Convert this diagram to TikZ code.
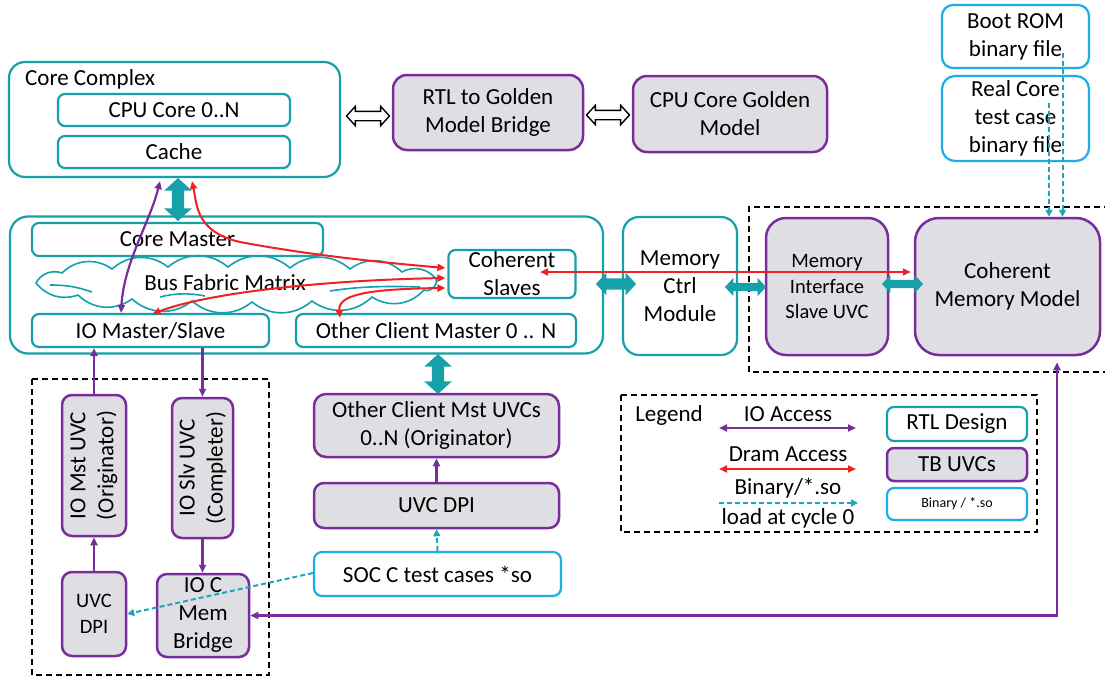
\documentclass[tikz,border=0pt]{standalone}
\usepackage{fontspec}
\setmainfont{Carlito}
\usetikzlibrary{arrows.meta,shapes.arrows,calc}
\definecolor{rtlteal}{RGB}{22,161,170}
\definecolor{binblue}{RGB}{30,174,230}
\definecolor{uvcpurple}{RGB}{120,45,155}
\definecolor{uvcgray}{RGB}{223,223,227}
\definecolor{dramred}{RGB}{240,32,36}
\definecolor{loadteal}{RGB}{28,166,184}

\begin{document}
\begin{tikzpicture}[x=1pt,y=-1pt,
  every node/.style={font=\fontsize{23}{28}\selectfont, inner sep=0pt, align=center},
  smalltext/.style={font=\fontsize{20.5}{25.5}\selectfont},
  tinytext/.style={font=\fontsize{14}{17}\selectfont},
  rtlbox/.style={draw=rtlteal, line width=2.2, fill=white, rounded corners=7},
  uvcbox/.style={draw=uvcpurple, line width=2.5, fill=uvcgray, rounded corners=10},
  binbox/.style={draw=binblue, line width=2.2, fill=white, rounded corners=8},
  groupframe/.style={draw=black, line width=1.8, dash pattern=on 6pt off 4pt},
  cloudline/.style={draw=rtlteal, line width=1.6},
  linkarrow/.style={double arrow, draw=black, fill=white, line width=1.4,
    inner sep=4pt, double arrow head extend=5pt, double arrow tip angle=95},
  busarrow/.style={double arrow, fill=rtlteal, draw=none, inner sep=4pt,
    double arrow head extend=5pt, double arrow tip angle=95},
  wideport/.style={busarrow, inner sep=6pt, double arrow head extend=7.5pt},
  ioacc/.style={draw=uvcpurple, line width=2.2, >={Triangle[length=8pt,width=7pt]}},
  dram/.style={draw=dramred, line width=2, >={Triangle[length=8pt,width=7pt]}, <->},
  load/.style={draw=loadteal, line width=2, dash pattern=on 5pt off 3pt,
    >={Triangle[length=7pt,width=7pt]}, ->}
]
\useasboundingbox (0,0) rectangle (1105,677);

% ---------- core complex and golden model path ----------
\node[rtlbox, rounded corners=16, minimum width=331, minimum height=115] (cc) at (174.5,119.5) {};
\node[anchor=west] (cclabel) at (25,79) {Core Complex};
\node[rtlbox, minimum width=232, minimum height=32] (cpu) at (174,110) {CPU Core 0..N};
\node[rtlbox, minimum width=232, minimum height=32] (cache) at (174,152) {Cache};

\node[uvcbox, rounded corners=14, minimum width=190, minimum height=75] (bridge) at (488,112.5) {RTL to Golden\\Model Bridge};
\node[uvcbox, rounded corners=14, minimum width=194, minimum height=76] (golden) at (730,114) {CPU Core Golden\\Model};

\node[linkarrow, minimum height=43] (ccbridge) at (368,116) {};
\node[linkarrow, minimum height=43] (bridgegolden) at (608,115) {};

% ---------- binary images ----------
\node[binbox, rounded corners=11, minimum width=147, minimum height=63] (bootrom) at (1015.5,36.5) {Boot ROM\\binary file};
\node[binbox, rounded corners=13, minimum width=147, minimum height=85] (realcore) at (1015.5,118.5) {Real Core\\test case\\binary file};

% ---------- SoC fabric ----------
\node[rtlbox, rounded corners=18, minimum width=593, minimum height=137] (soc) at (306.5,285) {};
\node[rtlbox, minimum width=291, minimum height=33] (coremaster) at (177.5,239.5) {Core Master};
% flattened cloud outline of the fabric
\draw[cloudline, bend left=40] (36,283) to (62,273) to (112,269) to (168,267) to (228,267)
  to (290,268) to (350,269) to (402,272) to (436,279) to[bend left=70] (424,290)
  to (372,297) to (312,301) to (252,302) to (192,301) to (132,299) to (78,295)
  to[bend left=35] (36,283) -- cycle;
\draw[cloudline] (50,285) .. controls (70,285) and (80,288) .. (92,292);
\draw[cloudline] (330,291) .. controls (360,286) and (395,286) .. (420,287);
\draw[cloudline] (160,297) .. controls (175,293) and (190,293) .. (205,296);
\node (fabrictext) at (225,283) {Bus Fabric Matrix};
\node[rtlbox, minimum width=127, minimum height=48] (cohslaves) at (512,274) {Coherent\\Slaves};
\node[rtlbox, minimum width=237, minimum height=33] (iomaster) at (150.5,330.5) {IO Master/Slave};
\node[rtlbox, minimum width=280, minimum height=33] (otherclient) at (436,330.5) {Other Client Master 0 .. N};

\node[wideport, rotate=90, minimum height=43] (ccsoc) at (178,199.5) {};

% ---------- memory side ----------
\node[rtlbox, rounded corners=16, minimum width=114, minimum height=138] (memctrl) at (680,286) {Memory\\Ctrl\\Module};
\draw[groupframe] (1110,207) -- (749,207) -- (749,372) -- (1110,372);
\node[uvcbox, rounded corners=20, minimum width=122, minimum height=137, smalltext] (memintf) at (827,286.5) {Memory\\Interface\\Slave UVC};
\node[uvcbox, rounded corners=24, minimum width=185, minimum height=137] (cmm) at (1007.5,286.5) {Coherent\\Memory Model};

\node[busarrow, inner sep=5.5pt, double arrow head extend=5.5pt, minimum height=40] (socmem) at (616,284) {};
\node[busarrow, minimum height=41] (memintfarrow) at (745.5,287) {};
\node[busarrow, minimum height=41] (intfcmm) at (902.5,284) {};

% ---------- IO verification components (rotated: east = top, west = bottom) ----------
\draw[groupframe] (32,379) rectangle (269,675);
\node[uvcbox, rotate=90, minimum width=141, minimum height=64] (iomst) at (94,465.5) {IO Mst UVC\\(Originator)};
\node[uvcbox, rotate=90, minimum width=140, minimum height=61] (ioslv) at (202.5,468) {IO Slv UVC\\(Completer)};
\node[uvcbox, minimum width=64, minimum height=84, smalltext] (uvcdpiio) at (94,614) {UVC\\DPI};
\node[uvcbox, minimum width=92, minimum height=83] (iocmem) at (203,615.5) {IO C\\Mem\\Bridge};

% ---------- other client verification components ----------
\node[uvcbox, rounded corners=12, minimum width=245, minimum height=63] (otheruvc) at (436.5,425.5) {Other Client Mst UVCs\\0..N (Originator)};
\node[uvcbox, minimum width=245, minimum height=45] (uvcdpi) at (436.5,505.5) {UVC DPI};
\node[binbox, minimum width=247, minimum height=44] (soctest) at (437.5,574) {SOC C test cases *so};
\node[wideport, rotate=90, minimum height=40] (socother) at (438,374) {};

% ---------- connectors ----------
\draw[ioacc, <->] ($(cc.south)+(-14.5,3)$) .. controls (150,222) and (124,262) .. ($(iomaster.north)+(-29.5,0)$);
\draw[ioacc, ->] (iomst.east) -- (iomst.east |- iomaster.south);
\draw[ioacc, ->] (ioslv.east |- iomaster.south) -- (ioslv.east);
\draw[ioacc, ->] (uvcdpiio.north) -- (iomst.west);
\draw[ioacc, ->] (ioslv.west) -- (ioslv.west |- iocmem.north);
\draw[ioacc, ->] (uvcdpi.north) -- (otheruvc.south);
\draw[ioacc, <->] ($(cmm.south)+(49.5,6)$) |- (iocmem.east);

\draw[load] (soctest.north) -- (uvcdpi.south);
\draw[load] ($(soctest.west)+(0,-1)$) -- (uvcdpiio.east);
\coordinate (bootsrc) at ($(bootrom.center)+(47,16.5)$);
\coordinate (realsrc) at ($(realcore.center)+(33.5,-15.5)$);
\draw[load] (bootsrc) -- (bootsrc |- cmm.north);
\draw[load] (realsrc) -- (realsrc |- cmm.north);

\draw[dram] ($(cc.south)+(17.5,3)$) .. controls (197,205) and (196,232) .. (240,242)
   .. controls (320,257) and (400,264) .. ($(cohslaves.west)+(-2,-6)$);
\draw[dram] ($(iomaster.north)+(2,1)$) .. controls (210,292) and (330,280) .. ($(cohslaves.west)+(-2,4)$);
\draw[dram] ($(otherclient.north)+(-96,5)$) .. controls (338,296) and (362,289) .. ($(cohslaves.west)+(-2,14)$);
\draw[dram] ($(cohslaves.center)+(28,-2)$) -- ($(cmm.west)+(-3,-14.5)$);

% ---------- legend ----------
\draw[groupframe] (621,395) rectangle (1037,532);
\node (legendtitle) at (669,415) {Legend};
\node (ioaccesstext) at (788,414) {IO Access};
\node (dramtext) at (788,454) {Dram Access};
\node (binarytext) at (788,488) {Binary/*.so};
\node (loadtext) at (788,518) {load at cycle 0};
\coordinate (ioa) at (719,428);  \coordinate (iob) at (856,428);
\coordinate (dra) at (719,469);  \coordinate (drb) at (856,469);
\coordinate (lda) at (719,503);  \coordinate (ldb) at (858,503);
\draw[ioacc, <->] (ioa) -- (iob);
\draw[dram] (dra) -- (drb);
\draw[load] (lda) -- (ldb);
\node[rtlbox, minimum width=140, minimum height=34] (keyrtl) at (957,424) {RTL Design};
\node[uvcbox, rounded corners=7, minimum width=140, minimum height=33] (keyuvc) at (957,464.5) {TB UVCs};
\node[binbox, rounded corners=7, minimum width=140, minimum height=32, tinytext] (keybin) at (957,504) {Binary / *.so};
\end{tikzpicture}
\end{document}
